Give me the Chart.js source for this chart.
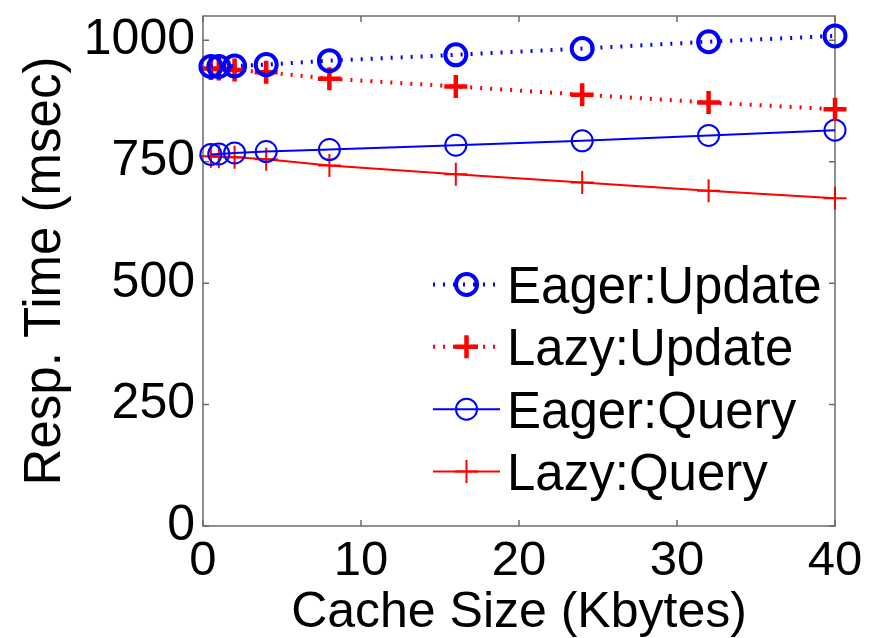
<!DOCTYPE html>
<html>
<head>
<meta charset="utf-8">
<script src="https://cdn.jsdelivr.net/npm/chart.js@4.4.1/dist/chart.umd.min.js"></script>
<style>
  html, body { margin: 0; padding: 0; background: #fff; }
  canvas { display: block; }
</style>
</head>
<body>
<canvas id="grafico" width="874" height="638"></canvas>
<script>
// datos
const cacheSize = [0.5, 1, 2, 4, 8, 16, 24, 32, 40];
const eagerUpdate = [946, 946, 947, 950, 958, 970, 983, 997, 1009];
const lazyUpdate = [942, 941, 939, 934, 921, 905, 888, 872, 858];
const eagerQuery = [765, 766, 768, 771, 775, 784, 793, 804, 815];
const lazyQuery = [761, 760, 759, 755, 742, 724, 707, 690, 675];
const xTicks = [0, 10, 20, 30, 40];
const yTicks = [0, 250, 500, 750, 1000];
const nombres = ['Eager:Update', 'Lazy:Update', 'Eager:Query', 'Lazy:Query'];

const fuente = "'Liberation Sans', Arial, Helvetica, sans-serif";

function puntos(valores) {
    return cacheSize.map((x, i) => ({ x: x, y: valores[i] }));
}

function dibujaMarcador(ctx, estilo, r, ancho, color, px, py) {
    ctx.save();
    ctx.setLineDash([]);
    ctx.strokeStyle = color;
    ctx.lineWidth = ancho;
    ctx.beginPath();
    if (estilo === 'circle') {
        ctx.arc(px, py, r, 0, Math.PI * 2);
    } else {
        ctx.moveTo(px - r, py); ctx.lineTo(px + r, py);
        ctx.moveTo(px, py - r); ctx.lineTo(px, py + r);
    }
    ctx.stroke();
    ctx.restore();
}

// caja con marcas hacia adentro (estilo matlab)
const marco = {
    id: 'marco',
    beforeDatasetsDraw(chart) {
        const { ctx, chartArea: a, scales: { x, y } } = chart;
        const largo = 6;
        ctx.save();
        ctx.strokeStyle = '#6b6b6b';
        ctx.lineWidth = 1.5;
        ctx.strokeRect(a.left, a.top, a.right - a.left, a.bottom - a.top);
        ctx.beginPath();
        x.ticks.forEach(t => {
            const px = x.getPixelForValue(t.value);
            ctx.moveTo(px, a.bottom); ctx.lineTo(px, a.bottom - largo);
            ctx.moveTo(px, a.top); ctx.lineTo(px, a.top + largo);
        });
        y.ticks.forEach(t => {
            const py = y.getPixelForValue(t.value);
            ctx.moveTo(a.left, py); ctx.lineTo(a.left + largo, py);
            ctx.moveTo(a.right, py); ctx.lineTo(a.right - largo, py);
        });
        ctx.stroke();
        ctx.restore();
    }
};

// leyenda dentro del area, con linea + marcador
const leyenda = {
    id: 'leyenda',
    afterDatasetsDraw(chart) {
        const ctx = chart.ctx;
        const x0 = 433, x1 = 500, xTexto = 507;
        chart.data.datasets.forEach((ds, i) => {
            const base = 302.7 + i * 62.4;
            const yc = base - 18.3;
            ctx.save();
            ctx.strokeStyle = ds.borderColor;
            ctx.lineWidth = ds.borderWidth;
            ctx.setLineDash(ds.borderDash || []);
            ctx.beginPath();
            ctx.moveTo(x0, yc);
            ctx.lineTo(x1, yc);
            ctx.stroke();
            ctx.restore();
            dibujaMarcador(ctx, ds.pointStyle, ds.pointRadius, ds.pointBorderWidth, ds.pointBorderColor, (x0 + x1) / 2, yc);
            ctx.save();
            ctx.fillStyle = '#000';
            ctx.font = '51px ' + fuente;
            ctx.textBaseline = 'alphabetic';
            ctx.textAlign = 'left';
            ctx.fillText(ds.label, xTexto, base);
            ctx.restore();
        });
    }
};

const config = {
    type: 'line',
    data: {
        datasets: [
            {
                label: nombres[0],
                data: puntos(eagerUpdate),
                borderColor: '#0000ff',
                borderWidth: 4,
                borderDash: [2, 8],
                pointStyle: 'circle',
                pointRadius: 10.5,
                pointBorderWidth: 4,
                pointBorderColor: '#0000ff',
                pointBackgroundColor: 'rgba(0,0,0,0)',
                clip: false
            },
            {
                label: nombres[1],
                data: puntos(lazyUpdate),
                borderColor: '#ff0000',
                borderWidth: 4,
                borderDash: [2, 8],
                pointStyle: 'cross',
                pointRadius: 11.5,
                pointBorderWidth: 4.5,
                pointBorderColor: '#ff0000',
                pointBackgroundColor: 'rgba(0,0,0,0)',
                clip: false
            },
            {
                label: nombres[2],
                data: puntos(eagerQuery),
                borderColor: '#0000ff',
                borderWidth: 2,
                pointStyle: 'circle',
                pointRadius: 10.5,
                pointBorderWidth: 2,
                pointBorderColor: '#0000ff',
                pointBackgroundColor: 'rgba(0,0,0,0)',
                clip: false
            },
            {
                label: nombres[3],
                data: puntos(lazyQuery),
                borderColor: '#ff0000',
                borderWidth: 2,
                pointStyle: 'cross',
                pointRadius: 11.5,
                pointBorderWidth: 2,
                pointBorderColor: '#ff0000',
                pointBackgroundColor: 'rgba(0,0,0,0)',
                clip: false
            }
        ]
    },
    plugins: [marco, leyenda],
    options: {
        responsive: false,
        animation: false,
        layout: { padding: { left: 0, top: 9, right: 39, bottom: 0 } },
        plugins: {
            legend: { display: false },
            tooltip: { enabled: false }
        },
        elements: { line: { tension: 0 } },
        scales: {
            x: {
                type: 'linear',
                min: 0,
                max: 40,
                grid: { display: false, drawTicks: false },
                border: { display: false },
                afterBuildTicks: function (scale) {
                    scale.ticks = xTicks.map(v => ({ value: v }));
                },
                afterFit: function (scale) {
                    scale.height = 112;
                    scale.paddingLeft = 0; scale.paddingRight = 0;
                    scale.paddingTop = 0; scale.paddingBottom = 0;
                },
                ticks: {
                    color: '#000',
                    padding: 6,
                    maxRotation: 0,
                    font: { family: fuente, size: 49 },
                    callback: function (v) { return String(v); }
                },
                title: {
                    display: true,
                    text: 'Cache Size (Kbytes)',
                    color: '#000',
                    padding: { top: 0, bottom: 0 },
                    font: { family: fuente, size: 50, lineHeight: 1 }
                }
            },
            y: {
                type: 'linear',
                min: 0,
                max: 1050,
                grid: { display: false, drawTicks: false },
                border: { display: false },
                afterBuildTicks: function (scale) {
                    scale.ticks = yTicks.map(v => ({ value: v }));
                },
                afterFit: function (scale) {
                    scale.width = 203;
                    scale.paddingLeft = 0; scale.paddingRight = 0;
                    scale.paddingTop = 0; scale.paddingBottom = 0;
                },
                ticks: {
                    color: '#000',
                    padding: 8,
                    font: { family: fuente, size: 50 },
                    callback: function (v) { return String(v); }
                },
                title: {
                    display: true,
                    text: 'Resp. Time (msec)',
                    color: '#000',
                    padding: { top: 15, bottom: 0 },
                    font: { family: fuente, size: 51, lineHeight: 1.2 }
                }
            }
        }
    }
};

const miGrafico = new Chart(document.getElementById('grafico').getContext('2d'), config);
</script>
</body>
</html>
